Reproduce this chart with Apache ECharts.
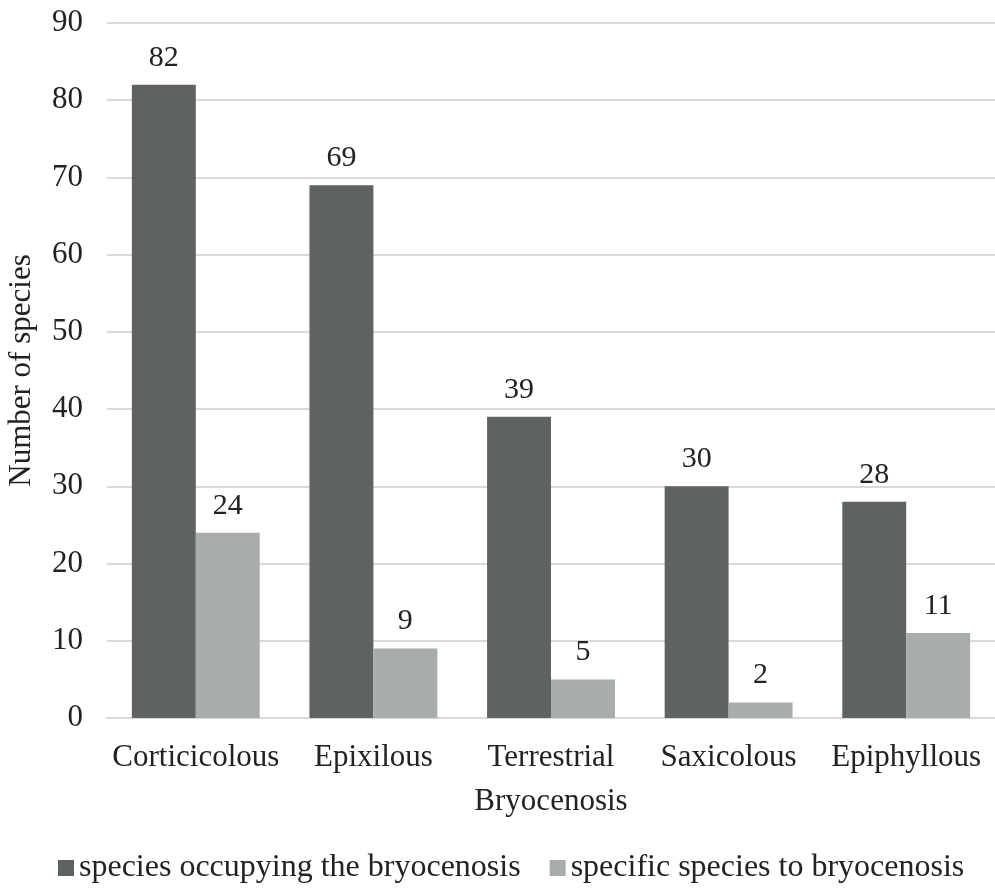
<!DOCTYPE html>
<html>
<head>
<meta charset="utf-8">
<script src="https://cdn.jsdelivr.net/npm/echarts@6/dist/echarts.min.js"></script>
<style>
  html, body { margin: 0; padding: 0; background: #fff; }
  #chart { width: 995px; height: 892px; }
</style>
</head>
<body>
<div id="chart"></div>
<script>
const categories = ['Corticicolous', 'Epixilous', 'Terrestrial', 'Saxicolous', 'Epiphyllous']
const occupying = [82, 69, 39, 30, 28]
const specific = [24, 9, 5, 2, 11]
const seriesNames = ['species occupying the bryocenosis', 'specific species to bryocenosis']

const font = 'Liberation Serif'
const textColor = '#222'

let myChart = echarts.init(document.getElementById('chart'))
let option = {
  animation: false,
  textStyle: { fontFamily: font },
  legend: {
    bottom: 3,
    left: 53,
    itemWidth: 16,
    itemHeight: 16,
    itemGap: 29,
    icon: 'rect',
    textStyle: { fontFamily: font, fontSize: 32, color: textColor },
    data: seriesNames,
  },
  grid: {
    top: 23,
    left: 107,
    right: 0,
    bottom: 174,
    containLabel: false,
    outerBoundsMode: 'none',
  },
  xAxis: {
    type: 'category',
    data: categories,
    name: 'Bryocenosis',
    nameLocation: 'middle',
    nameGap: 68,
    nameTextStyle: { fontFamily: font, fontSize: 31, color: textColor },
    axisLine: { show: true, lineStyle: { color: '#d9d9d9', width: 2 } },
    axisTick: { show: false },
    axisLabel: { interval: 0, hideOverlap: false, fontFamily: font, fontSize: 31, color: textColor, margin: 24 },
  },
  yAxis: {
    type: 'value',
    min: 0,
    max: 90,
    interval: 10,
    name: 'Number of species',
    nameLocation: 'middle',
    nameGap: 70,
    nameTextStyle: { fontFamily: font, fontSize: 31, color: textColor },
    axisLine: { show: false },
    axisTick: { show: false },
    axisLabel: { fontFamily: font, fontSize: 31, color: textColor, margin: 24 },
    splitLine: { lineStyle: { color: '#d9d9d9', width: 2 } },
  },
  series: [
    {
      name: seriesNames[0],
      type: 'bar',
      data: occupying,
      barWidth: '36%',
      barGap: '0%',
      itemStyle: { color: '#5f6263' },
      label: { show: true, position: 'top', distance: 12, fontFamily: font, fontSize: 30, color: textColor },
    },
    {
      name: seriesNames[1],
      type: 'bar',
      data: specific,
      barWidth: '36%',
      itemStyle: { color: '#a9acad' },
      label: { show: true, position: 'top', distance: 12, fontFamily: font, fontSize: 30, color: textColor },
    },
  ],
}
myChart.setOption(option)
</script>
</body>
</html>
